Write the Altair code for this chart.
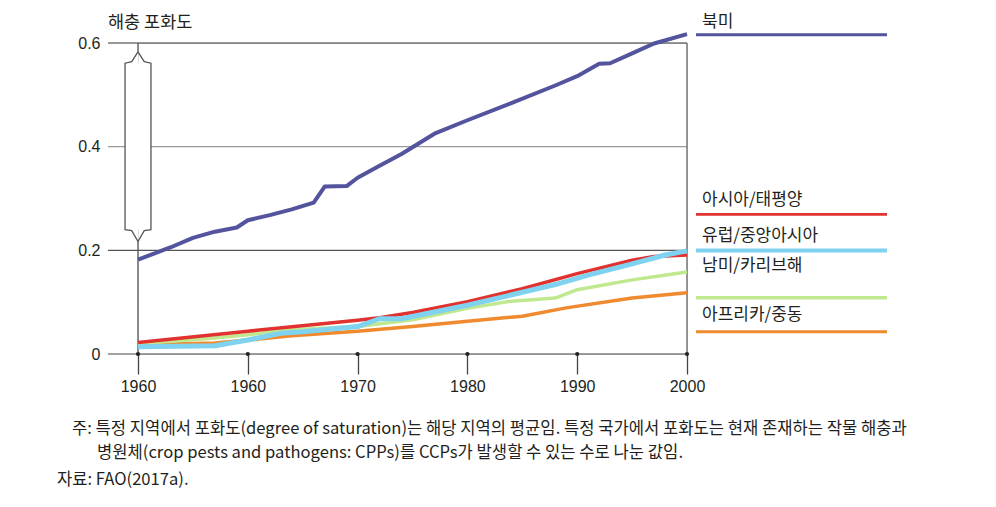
import altair as alt
import pandas as pd

# ---------------- data ----------------
years_na = [1950, 1953, 1955, 1957, 1959, 1960, 1962, 1964, 1966, 1967, 1969, 1970,
            1972, 1974, 1975, 1977, 1980, 1984, 1988, 1990, 1992, 1993, 1995, 1997, 2000]
vals_na = [0.182, 0.206, 0.224, 0.236, 0.244, 0.258, 0.268, 0.279, 0.292, 0.323, 0.324, 0.340,
           0.363, 0.386, 0.399, 0.425, 0.451, 0.484, 0.518, 0.536, 0.560, 0.561, 0.580, 0.599, 0.617]

years_ap = [1950, 1960, 1970, 1972, 1975, 1980, 1985, 1990, 1995, 1997, 2000]
vals_ap = [0.022, 0.044, 0.065, 0.070, 0.080, 0.101, 0.126, 0.155, 0.181, 0.188, 0.191]

years_eu = [1950, 1957, 1960, 1963, 1965, 1970, 1972, 1974, 1980, 1988, 1991, 1995, 1998, 2000]
vals_eu = [0.014, 0.016, 0.027, 0.040, 0.043, 0.053, 0.068, 0.068, 0.094, 0.134, 0.152, 0.174, 0.191, 0.199]

years_la = [1950, 1957, 1960, 1964, 1970, 1975, 1980, 1984, 1988, 1990, 1995, 2000]
vals_la = [0.020, 0.031, 0.037, 0.047, 0.053, 0.066, 0.088, 0.102, 0.108, 0.124, 0.143, 0.158]

years_af = [1950, 1957, 1960, 1964, 1970, 1975, 1980, 1985, 1989, 1995, 2000]
vals_af = [0.018, 0.021, 0.027, 0.035, 0.044, 0.053, 0.063, 0.073, 0.089, 0.108, 0.118]

x_ticks = [1950, 1960, 1970, 1980, 1990, 2000]
y_ticks = [0, 0.2, 0.4, 0.6]

title_text = "해충 포화도"
note_lines = [
    "주: 특정 지역에서 포화도(degree of saturation)는 해당 지역의 평균임. 특정 국가에서 포화도는 현재 존재하는 작물 해충과",
    "병원체(crop pests and pathogens: CPPs)를 CCPs가 발생할 수 있는 수로 나눈 값임.",
    "자료: FAO(2017a).",
]

# ---------------- styling ----------------
W, H = 549, 311
KFONT = "Noto Sans CJK KR"
NFONT = "Liberation Sans"
TXT = "#231f20"

series = [
    ("아프리카/중동", years_af, vals_af, "#f08a2e", 3.5, 3.0),
    ("남미/카리브해", years_la, vals_la, "#c0e88e", 3.5, 3.5),
    ("아시아/태평양", years_ap, vals_ap, "#e2322f", 3.5, 2.8),
    ("유럽/중앙아시아", years_eu, vals_eu, "#7fd2f0", 5.0, 4.0),
    ("북미", years_na, vals_na, "#53539e", 4.0, 3.0),
]
# legend placement (pixels relative to plot area): text centre y, line y
legend_pos = {
    "북미": (-20.6, -8.3),
    "아시아/태평양": (157.2, 171.4),
    "유럽/중앙아시아": (193.2, 207.4),
    "남미/카리브해": (223.2, 254.7),
    "아프리카/중동": (272.2, 288.7),
}

xs = alt.Scale(domain=[1950, 2000], nice=False, zero=False)
ys = alt.Scale(domain=[0, 0.6], nice=False, zero=False)

X_AXIS = alt.Axis(
    values=x_ticks, labelExpr="datum.value == 1950 ? '1960' : format(datum.value, 'd')",
    domain=False, grid=False, ticks=True, tickSize=20, tickColor="#444444", tickWidth=1.3,
    labelPadding=4, labelFontSize=16, labelFont=NFONT, labelColor=TXT, title=None,
    labelFlush=False, labelOverlap=False)
Y_AXIS = alt.Axis(
    values=y_ticks, labelExpr="datum.value == 0 ? '0' : format(datum.value, '.1f')",
    domain=False, ticks=False, grid=False, labelPadding=38, labelFontSize=16,
    labelFont=NFONT, labelColor=TXT, title=None, labelFlush=False, labelOverlap=False)


def xq(field):
    return alt.X(field, type="quantitative", scale=xs, axis=X_AXIS)


def yq(field):
    return alt.Y(field, type="quantitative", scale=ys, axis=Y_AXIS)


layers = []

# gridlines (extend left of the axis)
grid_df = pd.DataFrame({"v": y_ticks, "c": ["#444444", "#555555", "#9a9a9a", "#333333"]})
layers.append(alt.Chart(grid_df).mark_rule(strokeWidth=1.2).encode(
    y=yq("v"), x=alt.value(-30), x2=alt.value(W),
    color=alt.Color("c:N", scale=None)))

# right frame line at 2000
frame_df = pd.DataFrame({"x": [2000], "y0": [0.0], "y1": [0.6]})
layers.append(alt.Chart(frame_df).mark_rule(color="#777777", strokeWidth=1.5).encode(
    x=xq("x"), y=yq("y0"), y2="y1:Q"))

# left axis line below the break
axis_df = pd.DataFrame({"x": [1950], "y0": [0.0], "y1": [0.217]})
layers.append(alt.Chart(axis_df).mark_rule(color="#555555", strokeWidth=1.3).encode(
    x=xq("x"), y=yq("y0"), y2="y1:Q"))

# axis-break symbol (white box with chevrons)
brk_rect = pd.DataFrame({"x0": [1948.82], "x1": [1951.18], "y0": [0.240], "y1": [0.561]})
layers.append(alt.Chart(brk_rect).mark_rect(color="white").encode(
    x=xq("x0"), x2="x1:Q", y=yq("y0"), y2="y1:Q"))
brk_x = [1950, 1950, 1949.43, 1948.82, 1948.82, 1949.43, 1950, 1950.57, 1951.18, 1951.18, 1950.57, 1950]
brk_y = [0.6, 0.583, 0.564, 0.561, 0.240, 0.238, 0.217, 0.238, 0.240, 0.561, 0.564, 0.583]
brk_df = pd.DataFrame({"x": brk_x, "y": brk_y, "i": list(range(len(brk_x)))})
layers.append(alt.Chart(brk_df).mark_line(color="#555555", strokeWidth=1.3, clip=False).encode(
    x=xq("x"), y=yq("y"), order="i:Q"))

# series lines
for name, yrs, vals, col, sw, lsw in series:
    df = pd.DataFrame({"year": yrs, "value": vals, "region": name})
    layers.append(alt.Chart(df).mark_line(color=col, strokeWidth=sw, strokeJoin="round",
                                          strokeCap="butt").encode(
        x=xq("year"), y=yq("value")))

# x-axis tick dots
tick_df = pd.DataFrame({"year": x_ticks, "zero": [0] * len(x_ticks)})
layers.append(alt.Chart(tick_df).mark_point(filled=True, color="#222222", size=18, opacity=1).encode(
    x=xq("year"), y=yq("zero")))

# legend at right
for name, yrs, vals, col, sw, lsw in series:
    ty, ly = legend_pos[name]
    ldf = pd.DataFrame({"label": [name]})
    layers.append(alt.Chart(ldf).mark_rule(color=col, strokeWidth=lsw).encode(
        x=alt.value(558), x2=alt.value(749), y=alt.value(ly)))
    layers.append(alt.Chart(ldf).mark_text(align="left", baseline="middle", font=KFONT,
                                           fontSize=17, color=TXT).encode(
        x=alt.value(564), y=alt.value(ty), text="label:N"))

# title
layers.append(alt.Chart(pd.DataFrame({"t": [title_text]})).mark_text(
    align="left", baseline="middle", font=KFONT, fontSize=17.5, color=TXT).encode(
    x=alt.value(-30), y=alt.value(-20.5), text="t:N"))

# notes
note_pos = [(-66, 385.7), (-41, 409.7), (-81, 436.7)]
for line, (nx, ny) in zip(note_lines, note_pos):
    layers.append(alt.Chart(pd.DataFrame({"t": [line]})).mark_text(
        align="left", baseline="middle", font=KFONT, fontSize=16.6, color=TXT).encode(
        x=alt.value(nx), y=alt.value(ny), text="t:N"))

chart = alt.layer(*layers).properties(
    width=W, height=H,
    autosize=alt.AutoSizeParams(type="none"),
    padding={"left": 130, "top": 35, "right": 290, "bottom": 140},
).configure_view(stroke=None).configure(background="white")

chart.save("out.html", embed_options={"renderer": "svg", "actions": False})
